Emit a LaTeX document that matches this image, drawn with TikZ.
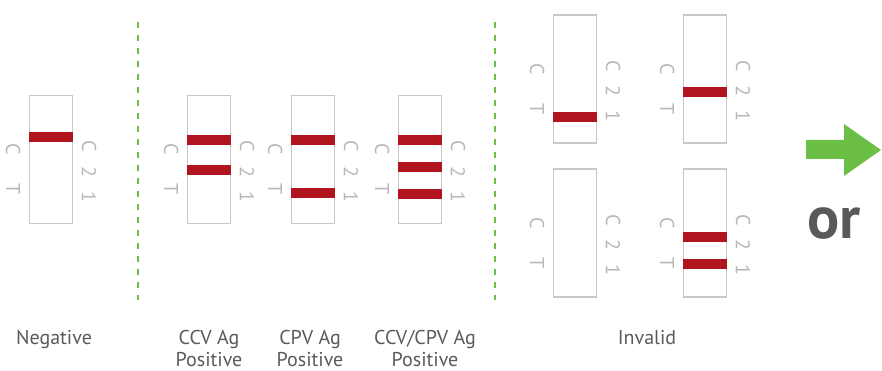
\documentclass[tikz,border=0pt]{standalone}
\usepackage{fontspec}
\setmainfont{PT Sans}
\usetikzlibrary{calc}

\definecolor{boxgray}{HTML}{C8C8C8}
\definecolor{markgray}{HTML}{B8B8B8}
\definecolor{capgray}{HTML}{5A5A5A}
\definecolor{orgray}{HTML}{58595B}
\definecolor{bandred}{HTML}{B0151F}
\definecolor{sepgreen}{HTML}{6CBF45}

\tikzset{
  stripbox/.style={draw=boxgray, line width=1.2pt, minimum width=43pt, minimum height=128pt, inner sep=0pt},
  bandline/.style={fill=bandred, draw=none, minimum width=44.2pt, minimum height=10pt, inner sep=0pt},
  marktext/.style={text=markgray, font=\fontsize{20}{20}\selectfont, rotate=-90, inner sep=0pt},
  caption/.style={text=capgray, font=\fontsize{20}{22.5}\selectfont, align=center, inner sep=0pt},
  sepline/.style={draw=sepgreen, line width=1.6pt, dash pattern=on 6pt off 7pt}
}

% one test strip with its C T and C 2 1 marks
\newcommand{\teststrip}[2]{%
  \node[stripbox] (#1) at (#2) {};
  \node[marktext] (#1-lc) at ($(#1.center)+(-38,-10)$) {C};
  \node[marktext] (#1-lt) at ($(#1.center)+(-38,30)$) {T};
  \node[marktext] (#1-rc) at ($(#1.center)+(38,-13)$) {C};
  \node[marktext] (#1-r2) at ($(#1.center)+(38,12)$) {2};
  \node[marktext] (#1-r1) at ($(#1.center)+(38,37)$) {1};
}

\begin{document}
\begin{tikzpicture}[x=1pt,y=-1pt]
  \useasboundingbox (0,0) rectangle (882,371);

  \teststrip{neg}{51,159.5}
  \foreach \b [count=\i] in {-22.5} { \node[bandline] (neg-band\i) at ($(neg.center)+(0,\b)$) {}; }

  \teststrip{ccv}{209,159.5}
  \foreach \b [count=\i] in {-19.5,10.5} { \node[bandline] (ccv-band\i) at ($(ccv.center)+(0,\b)$) {}; }

  \teststrip{cpv}{313,159.5}
  \foreach \b [count=\i] in {-19.5,33.5} { \node[bandline] (cpv-band\i) at ($(cpv.center)+(0,\b)$) {}; }

  \teststrip{both}{420,159.5}
  \foreach \b [count=\i] in {-19.5,7.5,34.5} { \node[bandline] (both-band\i) at ($(both.center)+(0,\b)$) {}; }

  % invalid results
  \teststrip{invA}{575,79}
  \foreach \b [count=\i] in {38} { \node[bandline] (invA-band\i) at ($(invA.center)+(0,\b)$) {}; }
  \teststrip{invB}{705,79}
  \foreach \b [count=\i] in {13} { \node[bandline] (invB-band\i) at ($(invB.center)+(0,\b)$) {}; }
  \teststrip{invC}{575,233}
  \teststrip{invD}{705,233}
  \foreach \b [count=\i] in {4,31} { \node[bandline] (invD-band\i) at ($(invD.center)+(0,\b)$) {}; }

  % separators
  \draw[sepline] (138,22) -- (138,300);
  \draw[sepline] (495,22) -- (495,300);

  % captions
  \node[caption, anchor=base] (cap-neg) at (54,344) {Negative};
  \node[caption, anchor=base] (cap-ccv) at (209,366.5) {CCV Ag\\Positive};
  \node[caption, anchor=base] (cap-cpv) at (310,366.5) {CPV Ag\\Positive};
  \node[caption, anchor=base] (cap-both) at (425,366.5) {CCV/CPV Ag\\Positive};
  \node[caption, anchor=base] (cap-inv) at (647,344) {Invalid};

  % arrow and or
  \fill[sepgreen] (806,140) -- (844,140) -- (844,124) -- (881,150) -- (844,176) -- (844,159) -- (806,159) -- cycle;
  \node[text=orgray, font=\fontsize{60}{60}\selectfont\bfseries, anchor=base, inner sep=0pt] (or) at (834,238) {or};
\end{tikzpicture}
\end{document}
